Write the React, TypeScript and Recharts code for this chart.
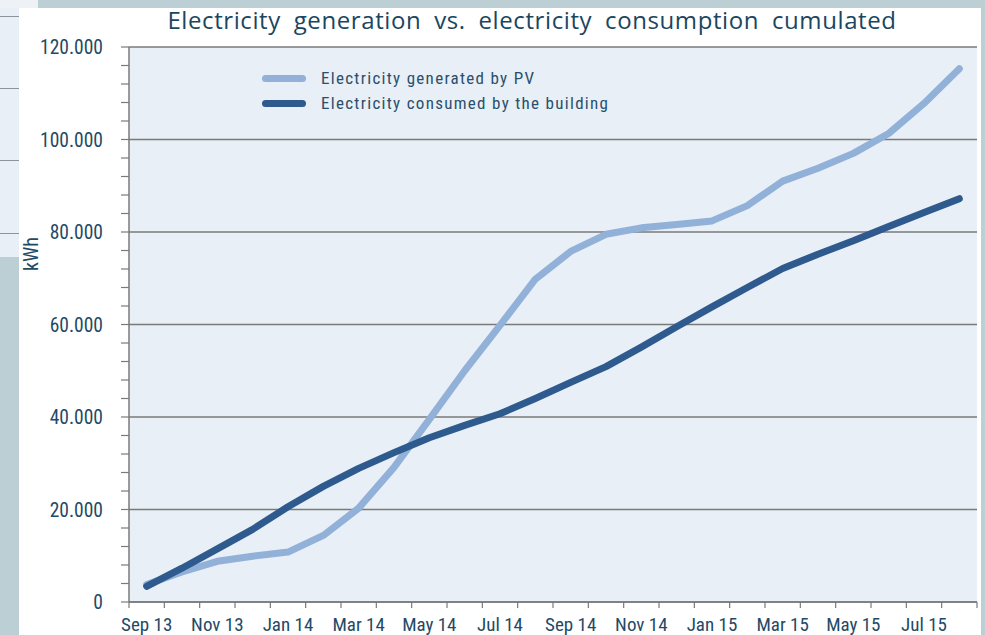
import React from 'react';
import { LineChart, Line, XAxis, YAxis, CartesianGrid, ReferenceLine } from 'recharts';

const months = [
  'Sep 13', 'Oct 13', 'Nov 13', 'Dec 13', 'Jan 14', 'Feb 14', 'Mar 14', 'Apr 14',
  'May 14', 'Jun 14', 'Jul 14', 'Aug 14', 'Sep 14', 'Oct 14', 'Nov 14', 'Dec 14',
  'Jan 15', 'Feb 15', 'Mar 15', 'Apr 15', 'May 15', 'Jun 15', 'Jul 15', 'Aug 15',
];

const pvGenerated = [
  3800, 6500, 8800, 9900, 10800, 14400, 20300, 29100,
  39500, 50000, 59800, 69800, 75800, 79500, 80900, 81600,
  82400, 85700, 91000, 93800, 97000, 101300, 107800, 115300,
];

const consumed = [
  3400, 7300, 11500, 15700, 20600, 25000, 28900, 32300,
  35500, 38200, 40700, 44000, 47500, 50900, 55100, 59500,
  63800, 68000, 72100, 75200, 78100, 81200, 84200, 87200,
];

const yTicks = [
  0, 4000, 8000, 12000, 16000, 20000, 24000, 28000, 32000, 36000, 40000,
  44000, 48000, 52000, 56000, 60000, 64000, 68000, 72000, 76000, 80000,
  84000, 88000, 92000, 96000, 100000, 104000, 108000, 112000, 116000, 120000,
];
const yGridValues = [0, 20000, 40000, 60000, 80000, 100000, 120000];

const seriesNames = ['Electricity generated by PV', 'Electricity consumed by the building'];
const titleText = 'Electricity generation vs. electricity consumption cumulated';
const yAxisLabel = 'kWh';

const data = months.map((m, i) => ({
  x: i + 0.5,
  month: m,
  pv: pvGenerated[i],
  cons: consumed[i],
}));
const xTicks = months.map((_, i) => i).concat([months.length]);

const W = 985;
const H = 635;
const PLOT_LEFT = 129;
const PLOT_RIGHT = 977;
const BAND = (PLOT_RIGHT - PLOT_LEFT) / months.length;

const LIGHT = '#92b1d8';
const DARK = '#2e5a8e';
const TEXT = '#1f4a66';
const NARROW = "'Liberation Sans Narrow', 'Roboto Condensed', 'Liberation Sans', Arial, sans-serif";

const fmtY = (v: number) => (v === 0 ? '0' : (v / 1000).toFixed(3));

const YTick = (props: any) => {
  const { x, y, payload } = props;
  if (payload.value % 20000 !== 0) return <g />;
  return (
    <text x={x - 16} y={y} dy={7} textAnchor="end" fill={TEXT} fontSize={19.5} fontFamily={NARROW}>
      {fmtY(payload.value)}
    </text>
  );
};

const XTick = (props: any) => {
  const { x, payload } = props;
  const i = payload.value;
  if (i % 2 !== 0 || i >= months.length) return <g />;
  return (
    <text x={x + BAND / 2} y={631} textAnchor="middle" fill={TEXT} fontSize={19} fontFamily={NARROW}>
      {months[i]}
    </text>
  );
};

export default function App() {
  return (
    <div style={{ position: 'absolute', left: 0, top: 0, width: W, height: H, background: '#bccfd4', overflow: 'hidden' }}>
      {/* page decoration */}
      <div style={{ position: 'absolute', left: 0, top: 0, width: 38, height: 8, background: '#eef2f7' }} />
      <div style={{ position: 'absolute', left: 0, top: 8, width: 19, height: 249, background: '#e9eff6' }} />
      {[16, 88, 160, 233].map((t) => (
        <div key={t} style={{ position: 'absolute', left: 0, top: t, width: 19, height: 1, background: '#8a949c' }} />
      ))}
      <div style={{ position: 'absolute', left: 19, top: 8, width: 962, height: H - 8, background: '#ffffff' }} />

      <div
        style={{
          position: 'absolute', left: 0, top: 3, width: 1064, textAlign: 'center',
          fontFamily: "'Open Sans', 'Noto Sans', sans-serif", fontSize: 24, color: '#1b4660',
          letterSpacing: 0.6, wordSpacing: 6, whiteSpace: 'nowrap',
        }}
      >
        {titleText}
      </div>

      <div style={{ position: 'absolute', left: 0, top: 0 }}>
        <LineChart width={W} height={H} data={data} margin={{ top: 47, right: 8, bottom: 0, left: 0 }}>
          <CartesianGrid horizontal={false} vertical={false} fill="#e9eff6" />
          {yGridValues.map((v) => (
            <ReferenceLine key={v} y={v} stroke="#7a7a7a" strokeWidth={1.5} ifOverflow="visible" />
          ))}
          <XAxis
            type="number"
            dataKey="x"
            domain={[0, months.length]}
            ticks={xTicks}
            interval={0}
            height={33}
            tick={<XTick />}
            tickSize={6}
            axisLine={{ stroke: '#7a7a7a', strokeWidth: 1.5 }}
            tickLine={{ stroke: '#7a7a7a', strokeWidth: 1.2 }}
          />
          <YAxis
            type="number"
            domain={[0, 120000]}
            ticks={yTicks}
            interval={0}
            width={PLOT_LEFT}
            tick={<YTick />}
            tickSize={8}
            axisLine={{ stroke: '#7a7a7a', strokeWidth: 1.5 }}
            tickLine={{ stroke: '#7a7a7a', strokeWidth: 1.2 }}
          />
          <Line
            type="linear"
            dataKey="pv"
            name={seriesNames[0]}
            stroke={LIGHT}
            strokeWidth={7}
            strokeLinecap="round"
            strokeLinejoin="round"
            dot={false}
            isAnimationActive={false}
          />
          <Line
            type="linear"
            dataKey="cons"
            name={seriesNames[1]}
            stroke={DARK}
            strokeWidth={7}
            strokeLinecap="round"
            strokeLinejoin="round"
            dot={false}
            isAnimationActive={false}
          />
        </LineChart>
      </div>

      {/* legend */}
      <div style={{ position: 'absolute', left: 262, top: 65.5, fontFamily: NARROW, fontSize: 17, color: '#2a4f6c', letterSpacing: 1.3 }}>
        {seriesNames.map((n, i) => (
          <div key={n} style={{ display: 'flex', alignItems: 'center', height: 25 }}>
            <div style={{ width: 44, height: 7, borderRadius: 4, background: i === 0 ? LIGHT : DARK, marginRight: 15 }} />
            <span>{n}</span>
          </div>
        ))}
      </div>

      <div
        style={{
          position: 'absolute', left: 31, top: 254, transform: 'translate(-50%, -50%) rotate(-90deg)',
          fontFamily: NARROW, fontSize: 20, color: TEXT, whiteSpace: 'nowrap',
        }}
      >
        {yAxisLabel}
      </div>
    </div>
  );
}
